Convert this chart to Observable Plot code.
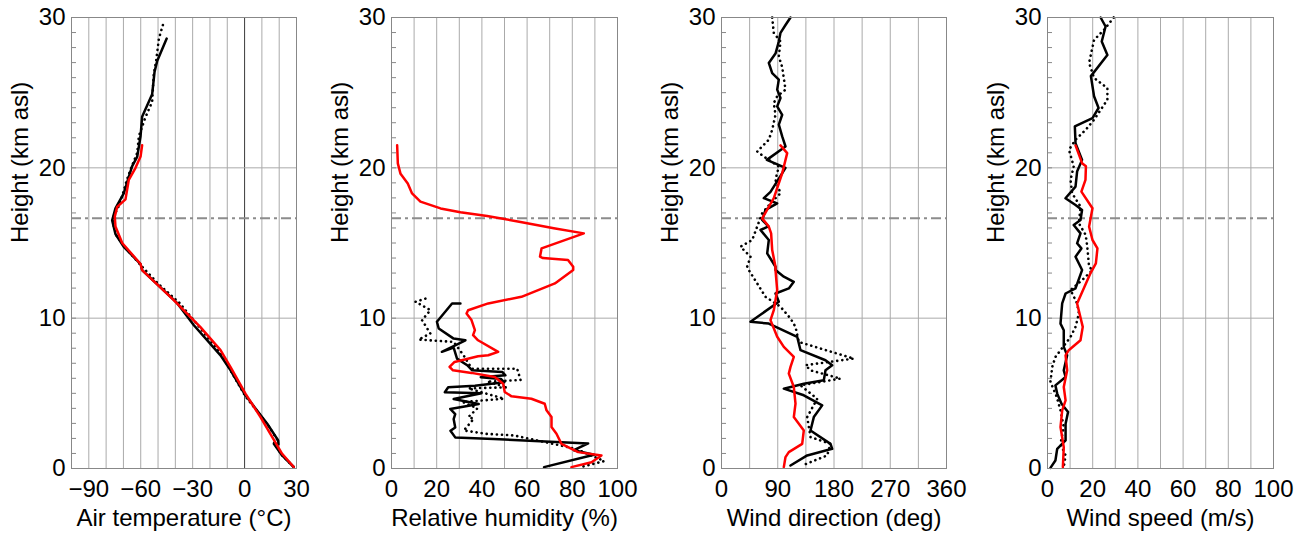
<!DOCTYPE html>
<html>
<head>
<meta charset="utf-8">
<script src="https://cdn.jsdelivr.net/npm/d3@7"></script>
<script src="https://cdn.jsdelivr.net/npm/@observablehq/plot@0.6"></script>
<style>
  html, body { margin: 0; padding: 0; background: #fff; }
  #wrap { position: relative; width: 1308px; height: 541px; overflow: hidden; }
  .panel { position: absolute; top: 0; }
  .panel svg { background: transparent; }
</style>
</head>
<body>
<div id="wrap"></div>
<script>
// ---------- Data: [value, height (km asl)] ----------
const tropopause = 16.65; // km, dash-dot reference line
const heightTicks = [0, 10, 20, 30];

// Air temperature (°C)
const tempSolid = [[-45,28.6],[-50.5,27.1],[-52,26.4],[-53.4,24.9],[-59.2,23.4],[-60.1,22.1],[-62,20.75],[-65,20.1],[-66.9,19.4],[-69.8,18.3],[-74.6,17.3],[-76.5,16.5],[-74.6,15.6],[-69.8,14.75],[-60.1,13.6],[-59.2,13.2],[-38.9,11.0],[-29.3,9.53],[-13.9,7.53],[-8.1,6.53],[0.5,4.87],[13.1,2.98],[19.4,1.87],[19.6,1.6],[16.9,1.64],[21.7,0.87],[28.4,0.1]];
const tempDotted = [[-47.2,29.5],[-49.5,28.6],[-51,27.2],[-52.5,26.2],[-53.4,24.4],[-57.5,23.3],[-61.1,22.1],[-62,21.0],[-65.5,20.0],[-68,19.2],[-70.5,18.2],[-72.5,17.5],[-75.5,16.8],[-76,16.3],[-74,15.5],[-69,14.7],[-59,13.4],[-50,12.3],[-37.5,11.0],[-27.5,9.6],[-13.5,7.6],[-7.5,6.4],[0.5,4.8],[13.5,2.9],[19,1.9],[17,1.7],[21.5,0.9],[28.4,0.1]];
const tempRed = [[-59.2,21.5],[-60.1,20.75],[-63,20.0],[-66.9,19.2],[-68.8,17.9],[-73.6,17.4],[-75,16.75],[-74.6,16.1],[-70.7,15.0],[-60.1,13.6],[-59.2,13.2],[-40.9,11.2],[-25.5,9.4],[-13.9,7.87],[-8.1,6.75],[0.5,4.98],[9.2,3.42],[16.0,2.09],[21.7,0.98],[28.4,0.1]];

// Relative humidity (%)
const rhSolid = [[30.5,10.98],[26.8,10.98],[20.1,9.76],[20.9,9.31],[27.5,8.64],[32.7,8.53],[22.3,7.76],[27.5,8.04],[29,7.31],[33.5,6.87],[35.7,6.53],[49,6.42],[50.4,6.2],[39.5,6.07],[48.4,5.96],[49.9,5.73],[36.9,5.51],[25.1,5.4],[23.6,5.07],[39.8,5.0],[27.5,4.62],[38.6,4.29],[26,3.96],[28.2,3.62],[27.5,3.29],[28.2,2.73],[26.1,2.51],[28.2,2.07],[45.2,1.96],[87,1.67],[80.7,1.22],[89.6,0.91],[67.5,0.09]];
const rhDotted = [[15.0,11.3],[10.6,11.09],[17.2,10.53],[13.5,9.87],[17.2,8.98],[12,8.58],[27.5,8.42],[31.9,7.53],[34.1,6.98],[35.7,6.64],[55.6,6.64],[57.1,5.89],[42.3,5.78],[51.2,5.4],[34.0,5.33],[49.8,4.64],[31.5,4.42],[38,4.0],[34.0,3.42],[36.4,3.31],[32.0,2.53],[41.6,2.31],[54.2,2.2],[81.6,1.31],[94.1,0.49],[83.6,0.09]];
const rhRed = [[2.5,21.5],[2.8,20.3],[4,19.6],[7.2,18.95],[9.1,18.3],[12.8,17.75],[21.7,17.3],[30.5,17.05],[42.3,16.8],[57.1,16.4],[71.8,15.98],[85.1,15.64],[66.4,14.64],[65.7,14.09],[67,14.0],[78.1,13.87],[80.4,13.42],[80.4,13.2],[72.3,12.31],[57.5,11.42],[42.8,10.98],[33.9,10.53],[33.2,10.31],[35.4,9.87],[36.9,9.2],[36.1,8.87],[38.3,8.53],[47.2,7.76],[42.8,7.53],[38.3,7.47],[27.9,7.09],[25.7,6.76],[27.2,6.53],[35.4,6.36],[45.7,6.09],[49.4,5.64],[50.1,5.09],[53.1,4.8],[61.9,4.64],[67.8,4.31],[68.6,3.87],[70.8,3.42],[70.8,2.76],[73,2.31],[75.2,1.64],[82.6,1.09],[92.9,0.87],[88.5,0.42],[79.6,0.09]];

// Wind direction (deg)
const wdSolid = [[110.4,30],[102.4,29.5],[94.4,28.98],[91.7,28.4],[86.4,27.6],[75.7,26.98],[81.1,26.3],[91.7,25.87],[89.1,25.2],[94.4,24.64],[89.1,24.09],[97.1,23.53],[91.7,22.87],[97.1,22.09],[102.4,21.42],[72.5,20.53],[102.4,20.0],[92,19.3],[78.4,18.4],[67.7,17.98],[89.1,17.64],[70.4,17.2],[65.1,16.53],[75,16.1],[62.4,15.87],[75.7,15.2],[73.1,14.31],[86.4,13.42],[86.4,13.2],[99.7,12.76],[115.7,12.42],[107.7,11.98],[86.4,11.64],[91.7,11.09],[46.4,9.76],[75.7,9.64],[121.1,8.76],[126.4,7.87],[166.4,7.2],[177.1,6.87],[166.4,6.53],[163.7,5.87],[131.7,5.64],[99.7,5.31],[131.7,4.87],[161.1,4.2],[147.7,3.42],[142.4,2.53],[174.4,1.64],[177.1,1.31],[137.1,0.87],[110.4,0.2]];
const wdDotted = [[81.1,30],[83.7,28.98],[94.4,28.4],[91.7,27.4],[97.1,26.7],[102.4,25.2],[89.1,24.76],[83.7,24.31],[86.4,23.53],[81.1,22.53],[75.7,21.87],[57.1,21.09],[67.7,20.75],[91.7,20.09],[86.4,19.2],[94.4,18.31],[78.4,17.64],[65.1,16.98],[57.1,16.09],[49.1,15.2],[30.4,14.75],[46.4,14.09],[41.1,13.42],[43.7,13.2],[57.1,12.31],[70.4,11.42],[94.4,10.76],[110.4,9.98],[118.4,9.42],[123.7,8.42],[211.7,7.31],[134.4,6.87],[142.4,6.53],[190.4,5.98],[126.4,5.53],[153.1,4.64],[137.1,3.42],[142.4,2.09],[174.4,1.64],[169.1,0.87],[129.1,0.2]];
const wdRed = [[94.4,21.49],[105.1,20.98],[97.1,19.64],[83.7,17.98],[65.1,16.64],[75.7,16.09],[79.4,15.64],[81.1,14.53],[86.4,13.42],[86.4,13.2],[89.1,11.87],[83.7,10.53],[78.4,9.87],[89.1,8.76],[99.7,8.09],[115.7,7.42],[110.4,6.76],[107.7,6.31],[115.7,5.42],[118.4,4.31],[115.7,3.42],[131.7,2.53],[129.1,1.64],[107.7,1.09],[102.4,0.76],[99.7,0.09]];

// Wind speed (m/s)
const wsSolid = [[23.5,30],[25.7,29.4],[24.0,28.4],[26.5,27.5],[19.2,26.1],[20.6,24.76],[22.6,23.98],[19.9,23.31],[12.1,22.76],[12.4,21.64],[15.3,20.53],[13.1,19.75],[12.4,18.75],[7.96,17.98],[12.4,17.53],[15.3,17.2],[14.6,16.53],[11.6,16.2],[14.6,15.64],[13.1,14.98],[15.0,14.64],[12.4,14.09],[14.6,13.42],[15.3,13.2],[12.4,11.98],[8.0,11.64],[6.5,10.98],[5.75,9.64],[7.2,9.2],[7.2,8.09],[8.7,7.53],[7.2,6.53],[8.0,6.09],[3.5,5.53],[4.3,4.98],[6.2,4.31],[9.1,3.76],[8.0,2.98],[8.0,1.87],[4.3,1.31],[3.5,0.53],[1.3,0.04]];
const wsDotted = [[29.3,30],[25.1,29.2],[20.6,28.5],[18.4,26.98],[20.6,25.98],[26.5,25.3],[26.5,24.53],[20.6,23.2],[16.9,22.53],[12.4,21.87],[9.5,21.2],[11.6,20.1],[10.2,19.2],[10.9,18.31],[14.6,17.42],[13.9,16.31],[16.9,15.53],[17.6,14.75],[18.4,13.42],[19.9,13.2],[15.3,12.53],[10.2,11.87],[13.1,10.98],[13.9,10.31],[12.4,9.42],[10.2,8.75],[3.5,7.42],[2.1,6.76],[1.3,5.76],[4,4.8],[5.75,3.87],[7.2,2.76],[5.75,1.64],[8.0,0.87],[7.2,0.09]];
const wsRed = [[12.4,21.49],[15.3,20.31],[17.0,20.1],[16.8,19.2],[15.0,18.42],[19.9,17.31],[18.4,16.09],[19.9,15.2],[22.1,14.64],[21.4,13.64],[19.0,12.98],[13.1,10.98],[15.6,9.42],[14.6,8.53],[9.4,7.87],[8.0,7.53],[8.7,6.53],[7.2,5.42],[8.0,4.53],[6.5,3.87],[5.75,2.76],[7.2,1.42],[6.8,0.09]];

// Panel definitions
const panels = [
  {left: 0,   width: 320, plotW: 225, domain: [-100, 30], ticks: [-90, -60, -30, 0, 30], grid: d3.range(-90, 30, 10), zeroLine: true, label: "Air temperature (°C)", series: [tempSolid, tempDotted, tempRed]},
  {left: 320, width: 326, plotW: 226, domain: [0, 100], ticks: [0, 20, 40, 60, 80, 100], grid: d3.range(10, 100, 10), zeroLine: false, label: "Relative humidity (%)", series: [rhSolid, rhDotted, rhRed]},
  {left: 650, width: 326, plotW: 225, domain: [0, 360], ticks: [0, 90, 180, 270, 360], grid: d3.range(45, 360, 45), zeroLine: false, label: "Wind direction (deg)", series: [wdSolid, wdDotted, wdRed]},
  {left: 976, width: 326, plotW: 226, domain: [0, 100], ticks: [0, 20, 40, 60, 80, 100], grid: d3.range(10, 100, 10), zeroLine: false, label: "Wind speed (m/s)", series: [wsSolid, wsDotted, wsRed]}
];

const FONT = "'Liberation Sans', Arial, Helvetica, sans-serif";
const FS = 24;
const wrap = document.getElementById("wrap");

for (const p of panels) {
  const [solid, dotted, red] = p.series;
  const marginLeft = 71;
  const chart = Plot.plot({
    width: p.width,
    height: 541,
    marginLeft,
    marginRight: p.width - marginLeft - p.plotW,
    marginTop: 17,
    marginBottom: 73,
    style: {fontFamily: FONT, fontSize: FS + "px", color: "#000", background: "transparent", overflow: "visible"},
    x: {domain: p.domain},
    y: {domain: [0, 30]},
    marks: [
      Plot.gridX(p.grid, {stroke: "#aaa", strokeOpacity: 1, strokeWidth: 1}),
      p.zeroLine ? Plot.gridX([0], {stroke: "#444", strokeOpacity: 1, strokeWidth: 1}) : null,
      Plot.gridY([10, 20], {stroke: "#aaa", strokeOpacity: 1, strokeWidth: 1}),
      Plot.ruleY([tropopause], {stroke: "#8c8c8c", strokeWidth: 2, strokeDasharray: "10,4,3,4"}),
      Plot.axisY(d3.range(1, 30), {tickSize: -5, tickFormat: null, text: null, label: null, stroke: "#888"}),
      Plot.axisY(heightTicks, {tickSize: 0, tickPadding: 6, fontSize: FS, label: null}),
      Plot.axisX(p.ticks, {tickSize: 0, tickPadding: 11, fontSize: FS, label: null}),
      Plot.line(dotted, {x: d => d[0], y: d => d[1], stroke: "#000", strokeWidth: 2.6, strokeDasharray: "0.1,5", strokeLinecap: "round", curve: "linear"}),
      Plot.line(solid, {x: d => d[0], y: d => d[1], stroke: "#000", strokeWidth: 2.5, curve: "linear"}),
      Plot.line(red, {x: d => d[0], y: d => d[1], stroke: "#f00", strokeWidth: 2.5, curve: "linear"}),
      Plot.frame({stroke: "#888", strokeWidth: 1}),
      Plot.text([p.label], {frameAnchor: "bottom", dy: 57, fontSize: FS, fill: "#000", text: d => d}),
      Plot.text(["Height (km asl)"], {frameAnchor: "left", dx: -51, rotate: -90, fontSize: FS, fill: "#000", text: d => d})
    ]
  });
  const div = document.createElement("div");
  div.className = "panel";
  div.style.left = p.left + "px";
  div.appendChild(chart);
  wrap.appendChild(div);
}
</script>
</body>
</html>
